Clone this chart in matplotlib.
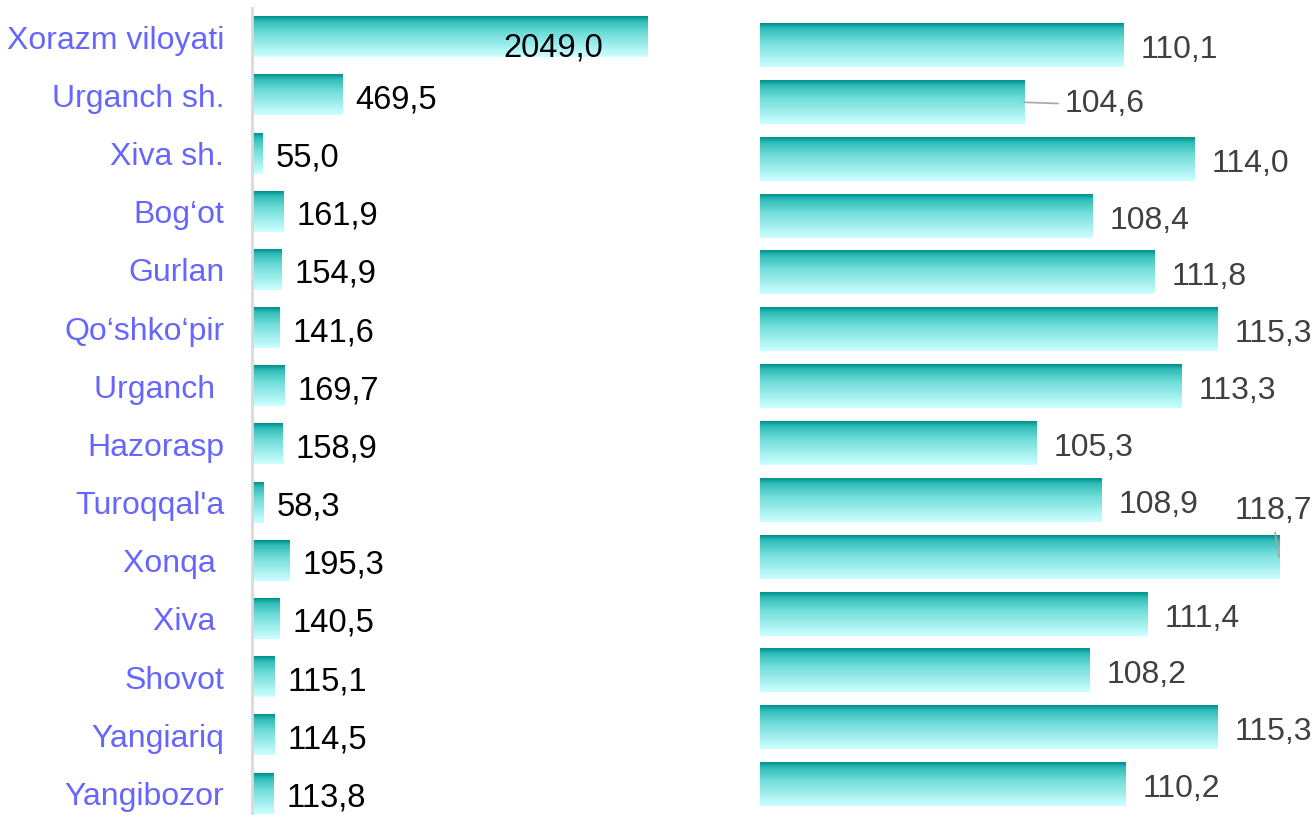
import numpy as np
import matplotlib.pyplot as plt
from matplotlib.colors import LinearSegmentedColormap

# data
districts = ["Xorazm viloyati", "Urganch sh.", "Xiva sh.", "Bog\u2018ot", "Gurlan",
             "Qo\u2018shko\u2018pir", "Urganch ", "Hazorasp", "Turoqqal'a", "Xonqa ",
             "Xiva ", "Shovot", "Yangiariq", "Yangibozor"]
volume = [2049.0, 469.5, 55.0, 161.9, 154.9, 141.6, 169.7, 158.9, 58.3, 195.3,
          140.5, 115.1, 114.5, 113.8]
growth = [110.1, 104.6, 114.0, 108.4, 111.8, 115.3, 113.3, 105.3, 108.9, 118.7,
          111.4, 108.2, 115.3, 110.2]
growth_base = 90

W, H = 1316, 815
plt.rcParams['font.family'] = ['Liberation Sans', 'DejaVu Sans']

teal = LinearSegmentedColormap.from_list(
    "teal", [(0, "#00928E"), (0.12, "#30BDB8"), (0.4, "#6EDCD8"), (1, "#CCFFFF")])
grad = np.linspace(0, 1, 64).reshape(-1, 1)


def fmt(v):
    return f"{v:.1f}".replace(".", ",")


def gradient_bars(ax, bars):
    for p in bars:
        x0, y0 = p.get_x(), p.get_y()
        x1, y1 = x0 + p.get_width(), y0 + p.get_height()
        # row 0 of the gradient goes to the visually upper edge (smaller y, axis inverted)
        ax.imshow(grad, extent=[x0, x1, y1, y0], origin="upper", aspect="auto",
                  cmap=teal, interpolation="bilinear", zorder=2)


fig = plt.figure(figsize=(W / 100, H / 100), dpi=100)

# ---- left panel: volume ----
ax1 = fig.add_axes([252 / W, 0, (700 - 252) / W, (815 - 8) / H])
pos = np.arange(len(districts))
b1 = ax1.barh(pos, volume, height=0.69, color="none", zorder=1)
gradient_bars(ax1, b1)
ax1.set_xlim(0, 448 / 0.19326)
ax1.set_ylim(13.37, -0.5)
ax1.set_yticks(pos, districts)
ax1.tick_params(axis="y", length=0, pad=20, labelsize=23, labelcolor="#6666FF")
ax1.set_xticks([])
for s in ["top", "right", "bottom"]:
    ax1.spines[s].set_visible(False)
ax1.spines["left"].set_color("#D9D9D9")
ax1.spines["left"].set_linewidth(2)

for i, v in enumerate(volume):
    if i == 0:
        ax1.annotate(fmt(v), xy=(v, i), xytext=(-45, -7), textcoords="offset pixels",
                     ha="right", va="center_baseline", fontsize=23.5, color="black", zorder=3)
    else:
        ax1.annotate(fmt(v), xy=(v, i), xytext=(13, -1), textcoords="offset pixels",
                     ha="left", va="center_baseline", fontsize=23.5, color="black", zorder=3)

# ---- right panel: growth ----
ax2 = fig.add_axes([760 / W, (H - 813) / H, (1294 - 760) / W, (813 - 17) / H])
b2 = ax2.barh(pos, np.array(growth) - growth_base, left=growth_base, height=0.757,
              color="none", zorder=1)
gradient_bars(ax2, b2)
ax2.set_xlim(growth_base, growth_base + 534 / 18.09)
ax2.set_ylim(13.5, -0.5)
ax2.axis("off")

lead = dict(arrowstyle="-", color="#A6A6A6", lw=1.2, shrinkA=3, shrinkB=0)
for i, v in enumerate(growth):
    if i == 1:
        ax2.annotate(fmt(v), xy=(v, i), xytext=(41, 2), textcoords="offset pixels",
                     ha="left", va="center_baseline", fontsize=23, color="#404040",
                     arrowprops=dict(lead, relpos=(0, 0.5)), annotation_clip=False)
    elif i == 9:
        ax2.annotate(fmt(v), xy=(v, i), xytext=(-45, 50), textcoords="offset pixels",
                     ha="left", va="center_baseline", fontsize=23, color="#404040",
                     arrowprops=dict(lead, relpos=(0.5, 0.2)), annotation_clip=False)
    else:
        ax2.annotate(fmt(v), xy=(v, i), xytext=(17, -1), textcoords="offset pixels",
                     ha="left", va="center_baseline", fontsize=23, color="#404040",
                     annotation_clip=False)

fig.savefig("out.png", dpi=100)
